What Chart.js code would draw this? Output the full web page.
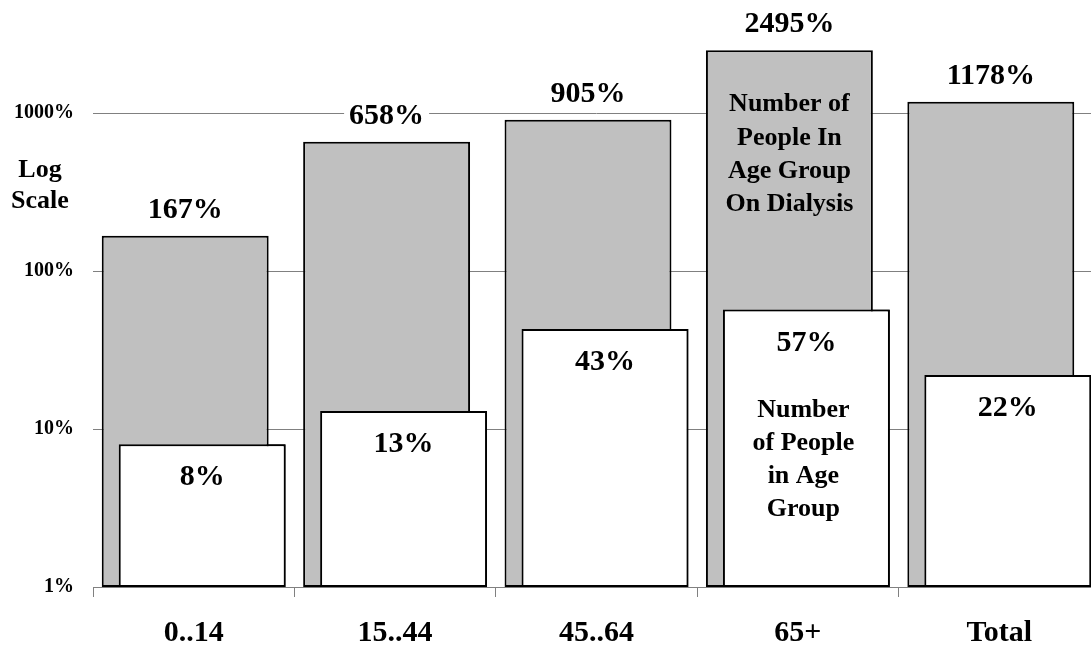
<!DOCTYPE html>
<html lang="en">

<head>
  <meta charset="UTF-8">
  <title>Dialysis by age group</title>
  <script src="https://cdn.jsdelivr.net/npm/chart.js"></script>
  <style>
    body { margin: 0; background: #fff; overflow: hidden; }
    #caixa { width: 1100px; height: 646px; }
  </style>
</head>

<body>
  <div id="caixa">
    <canvas id="grafico" width="1100" height="646"></canvas>
  </div>
</body>

</html>
<script>
  // dados (percentuais, escala log)
  var faixas = ['0..14', '15..44', '45..64', '65+', 'Total'];
  var dialise = [167, 658, 905, 2495, 1178];
  var populacao = [8, 13, 43, 57, 22];
  var marcasY = [1, 10, 100, 1000];

  var fonte = "'Liberation Serif', 'Times New Roman', serif";

  // textos que ficam dentro das barras do 65+
  var textoDialise = ['Number of', 'People In', 'Age Group', 'On Dialysis'];
  var textoPopulacao = ['Number', 'of People', 'in Age', 'Group'];

  var rotulos = {
    id: 'rotulos',
    afterDatasetsDraw: function (chart) {
      var ctx = chart.ctx;
      // barras brancas por cima das cinzas
      chart.getDatasetMeta(1).controller.draw();

      ctx.save();
      ctx.fillStyle = '#000';
      ctx.textAlign = 'center';
      ctx.textBaseline = 'alphabetic';
      ctx.font = 'bold 30px ' + fonte;

      var cinza = chart.getDatasetMeta(0).data;
      var branca = chart.getDatasetMeta(1).data;

      for (var i = 0; i < cinza.length; i++) {
        var txt = dialise[i] + '%';
        var w = ctx.measureText(txt).width;
        ctx.fillStyle = '#fff';
        ctx.fillRect(cinza[i].x - w / 2 - 5, cinza[i].y - 43, w + 10, 32);
        ctx.fillStyle = '#000';
        ctx.fillText(txt, cinza[i].x, cinza[i].y - 18);
      }
      for (var j = 0; j < branca.length; j++) {
        ctx.fillText(populacao[j] + '%', branca[j].x, branca[j].y + 41);
      }

      ctx.font = 'bold 26px ' + fonte;
      var b = cinza[3];
      for (var k = 0; k < textoDialise.length; k++) {
        ctx.fillText(textoDialise[k], b.x, b.y + 61 + k * 33.3);
      }
      var c = branca[3];
      for (var m = 0; m < textoPopulacao.length; m++) {
        ctx.fillText(textoPopulacao[m], c.x - 3, c.y + 107 + m * 33.2);
      }

      ctx.fillText('Log', 40, 177);
      ctx.fillText('Scale', 40, 208);
      ctx.restore();
    }
  };

  var ctx = document.getElementById('grafico').getContext('2d');
  var myChart = new Chart(ctx, {
    type: 'bar',
    data: {
      labels: faixas,
      datasets: [{
        label: 'On Dialysis',
        data: dialise,
        backgroundColor: '#c0c0c0',
        borderColor: '#000',
        borderWidth: 2,
        borderSkipped: false
      }, {
        label: 'In Age Group',
        data: populacao,
        backgroundColor: '#ffffff',
        borderColor: '#000',
        borderWidth: 2,
        borderSkipped: false
      }]
    },
    options: {
      responsive: false,
      animation: false,
      categoryPercentage: 0.1688,
      barPercentage: 9.82,
      layout: { padding: 0 },
      plugins: {
        legend: { display: false },
        tooltip: { enabled: false }
      },
      scales: {
        x: {
          grid: {
            offset: true,
            drawOnChartArea: false,
            tickLength: 10,
            color: '#808080'
          },
          border: { color: '#808080' },
          ticks: {
            color: '#000',
            padding: 18,
            font: { family: fonte, size: 30, weight: 'bold' }
          },
          afterFit: function (s) { s.height = 59; }
        },
        y: {
          type: 'logarithmic',
          min: 1,
          max: 3304,
          bounds: 'data',
          grid: { drawTicks: false, color: '#808080' },
          border: { display: false },
          ticks: {
            color: '#000',
            padding: 19,
            font: { family: fonte, size: 20, weight: 'bold' },
            callback: function (v) { return v + '%'; }
          },
          afterBuildTicks: function (s) {
            s.ticks = marcasY.map(function (v) { return { value: v }; });
          },
          afterFit: function (s) { s.width = 93; }
        }
      }
    },
    plugins: [rotulos]
  });
</script>
